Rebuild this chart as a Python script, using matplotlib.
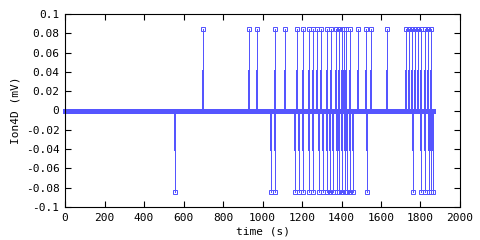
import matplotlib
matplotlib.use("Agg")
import matplotlib.pyplot as plt

# recording span (s)
t_start = 0
t_end = 1862

# times (s) of positive and negative spikes
up_times = [700, 933, 974, 1065, 1116, 1176, 1207, 1237, 1256, 1276, 1298,
            1325, 1345, 1372, 1387, 1403, 1413, 1423, 1443, 1484, 1524, 1548,
            1632, 1727, 1742, 1757, 1772, 1787, 1803, 1823, 1838, 1853]
down_times = [558, 1045, 1065, 1166, 1186, 1207, 1234, 1257, 1288, 1308, 1325,
              1342, 1359, 1376, 1389, 1403, 1416, 1429, 1443, 1457, 1531, 1760,
              1804, 1821, 1841, 1852, 1862]
spike_peak = 0.084
spike_half = 0.042

yticks = [0.1, 0.08, 0.06, 0.04, 0.02, 0, -0.02, -0.04, -0.06, -0.08, -0.1]
ytick_labels = ["0.1", "0.08", "0.06", "0.04", "0.02", "0",
                "-0.02", "-0.04", "-0.06", "-0.08", "-0.1"]
xticks = [0, 200, 400, 600, 800, 1000, 1200, 1400, 1600, 1800, 2000]

color = "#5555ff"
px = 0.72  # one pixel in points at dpi 100

plt.rcParams["font.family"] = ["DejaVu Sans Mono"]
plt.rcParams["font.size"] = 8

fig = plt.figure(figsize=(4.8, 2.4), dpi=100)
ax = fig.add_axes([65 / 480, 1 - 207 / 240, 395 / 480, 193 / 240])

# thick zero band made of overlapping samples
ax.plot([t_start, t_end], [0, 0], color=color, lw=5 * px,
        solid_capstyle="projecting", clip_on=False)

for sign, times in [(1, up_times), (-1, down_times)]:
    ax.vlines(times, 0, sign * spike_peak, color=color, lw=1 * px,
              antialiased=False)
    ax.vlines(times, 0, sign * spike_half, color=color, lw=2 * px,
              antialiased=False)
    ax.plot(times, [sign * spike_peak] * len(times), ls="none", marker="s",
            ms=4 * px, mfc="none", mec=color, mew=1 * px, antialiased=False)

ax.set_xlim(0, 2000)
ax.set_ylim(-0.1, 0.1)
ax.set_xticks(xticks)
ax.set_yticks(yticks)
ax.set_yticklabels(ytick_labels)
ax.tick_params(direction="in", length=4, width=0.8, top=True, right=True,
               pad=4)
for s in ax.spines.values():
    s.set_linewidth(0.8)

ax.set_xlabel("time (s)", labelpad=3)
ax.set_ylabel("Ion4D (mV)", labelpad=4)

fig.savefig("out.png", dpi=100)
